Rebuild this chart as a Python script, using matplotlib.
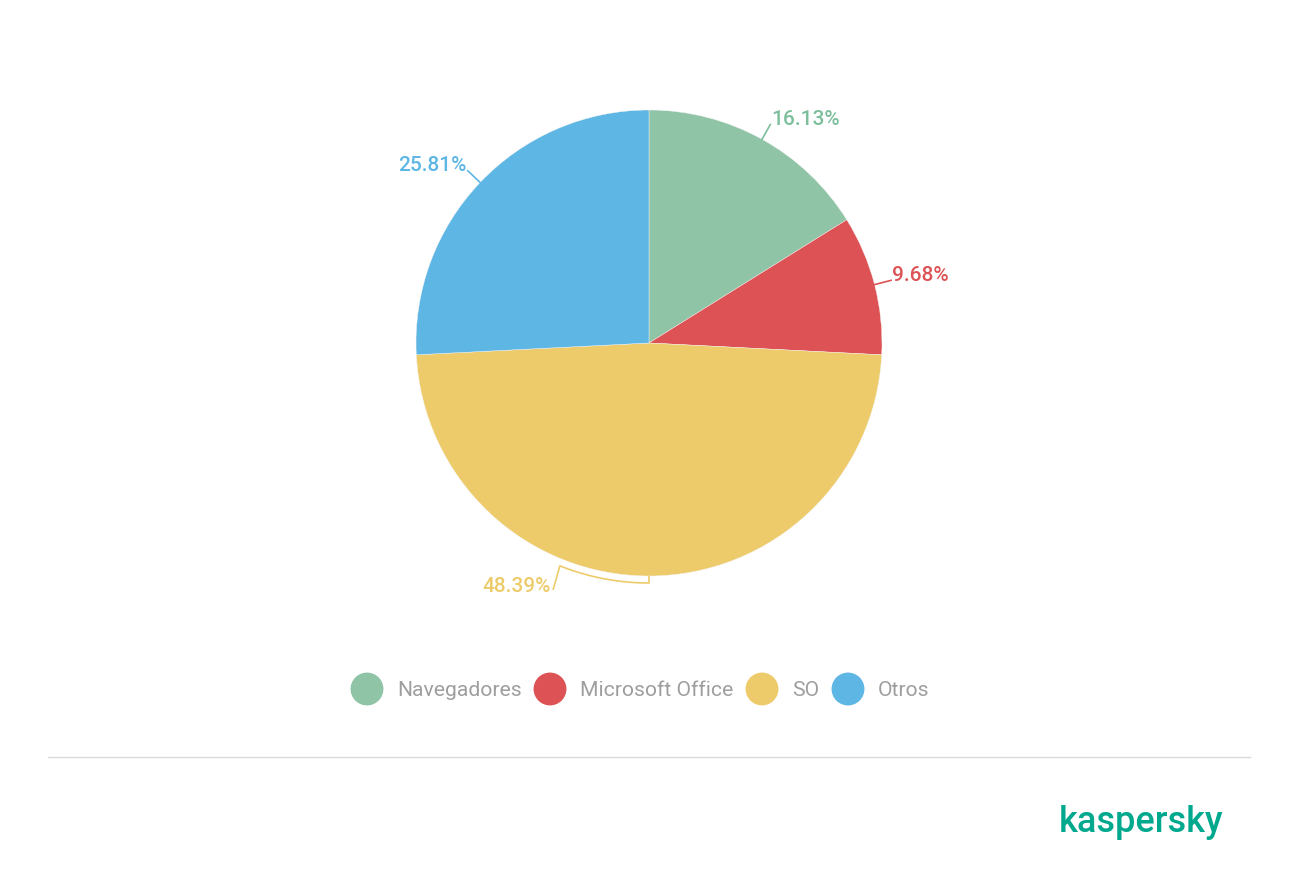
import numpy as np
import matplotlib.pyplot as plt

plt.rcParams['font.family'] = ['Roboto', 'DejaVu Sans']

categories = ['Navegadores', 'Microsoft Office', 'SO', 'Otros']
values = [16.13, 9.68, 48.39, 25.81]
colors = ['#8FC4A7', '#DD5355', '#EECB6A', '#5EB6E4']
label_colors = ['#7DBF9C', '#DD5355', '#EECB6A', '#5EB6E4']

W, H = 1299, 890
fig = plt.figure(figsize=(W / 100, H / 100), dpi=100)
ax = fig.add_axes([0, 0, 1, 1])


def Y(y):
    # pixel row (from top) -> data y (y up)
    return H - y


cx, cy, R = 649, 343, 233
wedges, _ = ax.pie(values, colors=colors, startangle=90, counterclock=False,
                   center=(cx, Y(cy)), radius=R, frame=True,
                   wedgeprops=dict(linewidth=0.3, edgecolor='#F4F4F4'))
ax.set_xlim(0, W)
ax.set_ylim(0, H)
ax.axis('off')

fs = 15
for i, w in enumerate(wedges):
    mid = np.deg2rad((w.theta1 + w.theta2) / 2)
    c = label_colors[i]
    txt = '%.2f%%' % values[i]
    if abs(np.cos(mid)) < 0.05:
        # bottom slice: bracket-shaped connector
        a0 = np.deg2rad(-90)
        a1 = np.deg2rad(-111.8)
        r1 = R + 7
        arc = np.linspace(a0, a1, 30)
        xs = [cx] + list(cx + r1 * np.cos(arc)) + [cx - 96]
        ys = [Y(cy) - R] + list(Y(cy) + r1 * np.sin(arc)) + [Y(590)]
        ax.plot(xs, ys, color=c, lw=1.2, solid_capstyle='butt')
        ax.text(cx - 98, Y(587), txt, color=c, fontsize=fs, ha='right',
                va='center', fontweight='medium')
        continue
    x0, y0 = cx + R * np.cos(mid), Y(cy) + R * np.sin(mid)
    x1, y1 = cx + (R + 17) * np.cos(mid), Y(cy) + (R + 17) * np.sin(mid)
    ax.plot([x0, x1], [y0, y1], color=c, lw=1.2)
    ha = 'left' if np.cos(mid) > 0 else 'right'
    dx = 1 if ha == 'left' else -1
    ax.text(x1 + dx, y1 + 5, txt, color=c, fontsize=fs, ha=ha, va='center',
            fontweight='medium')

# legend
leg_x = [367, 550, 762, 848]
for i, cat in enumerate(categories):
    ax.scatter([leg_x[i]], [Y(689)], s=560, color=colors[i], edgecolor='none')
    ax.text(leg_x[i] + 30, Y(690), cat, color='#9E9E9E', fontsize=15.2,
            ha='left', va='center')

ax.plot([48, 1250], [Y(757), Y(757)], color='#DADADA', lw=1)
ax.text(1223, Y(823), 'kaspersky', color='#00A88E', fontsize=26,
        ha='right', va='center', fontweight='medium')

fig.savefig('out.png', dpi=100)
